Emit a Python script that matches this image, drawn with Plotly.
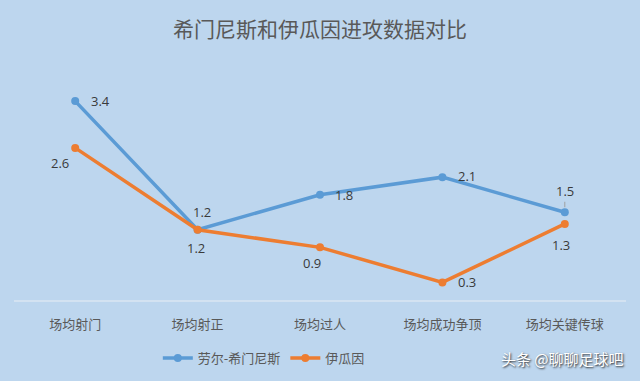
import plotly.graph_objects as go

categories = ["场均射门", "场均射正", "场均过人", "场均成功争顶", "场均关键传球"]
jimenez = [3.4, 1.2, 1.8, 2.1, 1.5]
higuain = [2.6, 1.2, 0.9, 0.3, 1.3]
series_names = ["劳尔-希门尼斯", "伊瓜因"]

blue = "#5b9bd5"
orange = "#ed7d31"
bg = "#bdd6ee"
font_family = "Noto Sans CJK SC, Microsoft YaHei, sans-serif"
label_font = dict(size=13, color="#3a3a3a", family="Open Sans, sans-serif")

# label placement (xanchor, xshift, yshift) per point
blue_pos = [("left", 14, 0), ("center", 4, 18), ("left", 13, 0), ("left", 14, 1), ("center", 1, 21)]
orange_pos = [("right", -4, -15), ("center", -2, -18), ("center", -8, -16), ("left", 14, 0), ("center", -4, -21)]

fig = go.Figure()
fig.add_trace(go.Scatter(
    x=categories, y=jimenez, name=series_names[0], mode="lines+markers",
    line=dict(color=blue, width=3.5), marker=dict(size=8, color=blue),
))
fig.add_trace(go.Scatter(
    x=categories, y=higuain, name=series_names[1], mode="lines+markers",
    line=dict(color=orange, width=3.5), marker=dict(size=8, color=orange),
))

annotations = []
for vals, pos in ((jimenez, blue_pos), (higuain, orange_pos)):
    for cat, v, (xa, xs, ys) in zip(categories, vals, pos):
        annotations.append(dict(x=cat, y=v, xref="x", yref="y", text=f"{v:.1f}", showarrow=False,
                                xanchor=xa, yanchor="middle", xshift=xs, yshift=ys, font=label_font))
# leader line for the last blue label
annotations[4].update(showarrow=True, ax=0, ay=-21, yshift=0, xshift=0, arrowhead=0,
                      arrowwidth=1, arrowcolor="#a0a0a0", standoff=5)

annotations.append(dict(text="头条 @聊聊足球吧", xref="paper", yref="paper", x=1.0, xanchor="right",
                        y=-0.248, yanchor="middle", showarrow=False,
                        font=dict(size=15, color="white", family=font_family,
                                  shadow="1px 1px 2px #222")))

fig.update_layout(
    width=640, height=381,
    paper_bgcolor=bg, plot_bgcolor=bg,
    margin=dict(l=14, r=14, t=66, b=81, autoexpand=False),
    title=dict(text="希门尼斯和伊瓜因进攻数据对比", x=0.5, xanchor="center", y=0.921, yanchor="middle",
               font=dict(size=21, color="#595959", family=font_family)),
    showlegend=True,
    legend=dict(orientation="h", x=0.235, xanchor="left", y=-0.248, yanchor="middle",
                font=dict(size=13, color="#595959", family=font_family), bgcolor="rgba(0,0,0,0)",
                itemwidth=30),
    xaxis=dict(showgrid=False, showline=True, linecolor="#d3e2f1", linewidth=1.5,
               tickfont=dict(size=13, color="#595959", family=font_family),
               ticks="outside", ticklen=12, tickcolor="rgba(0,0,0,0)",
               range=[-0.5, 4.5], fixedrange=True),
    yaxis=dict(range=[0, 4], visible=False, showgrid=False, zeroline=False, fixedrange=True),
    annotations=annotations,
)

fig.write_html("out.html", config={"displayModeBar": False},
               post_script="document.body.style.margin='0';document.body.style.background='%s';" % bg)
